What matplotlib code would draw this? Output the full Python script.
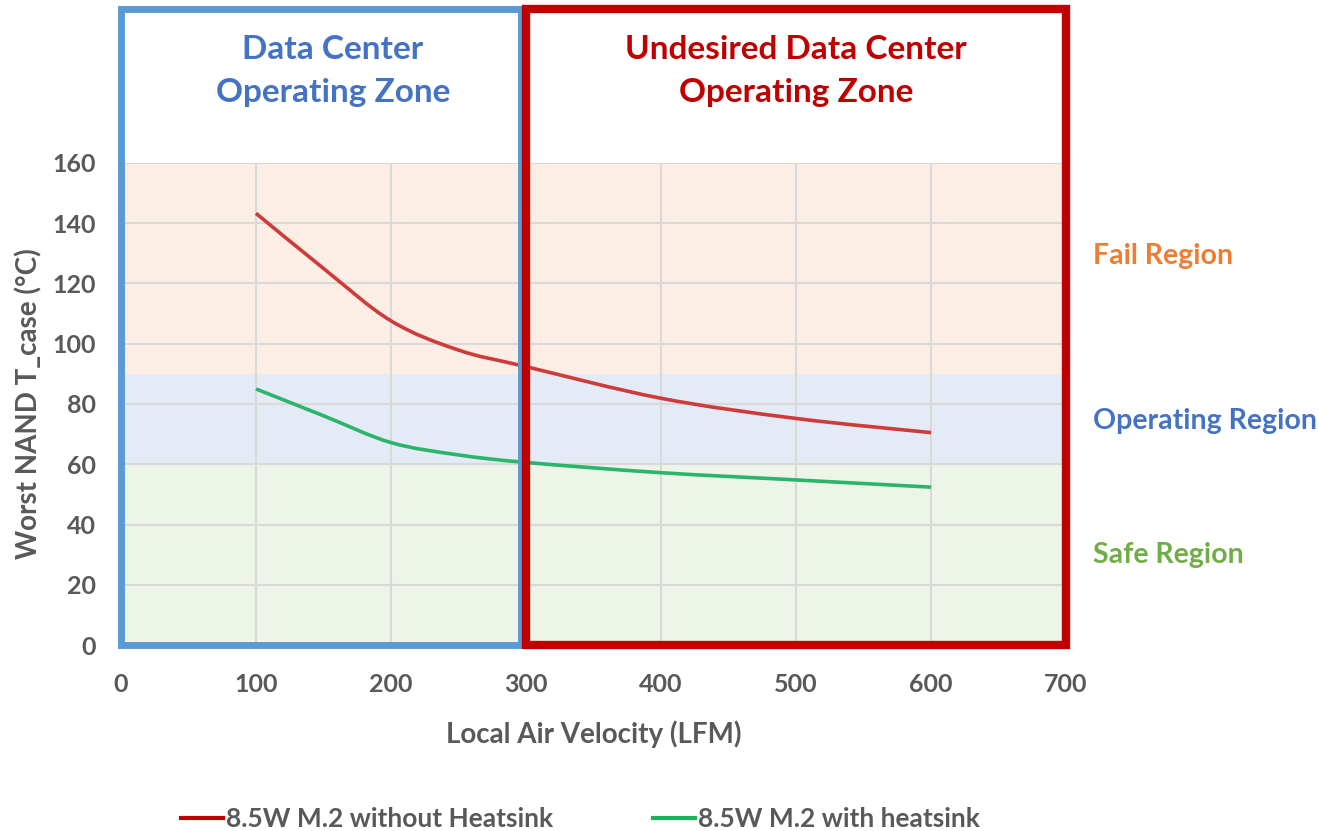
"""NAND case temperature vs local air velocity, with operating zones."""

import matplotlib

matplotlib.use("Agg")
import matplotlib.pyplot as plt
from matplotlib.patches import PathPatch, Rectangle
from matplotlib.path import Path
from matplotlib.lines import Line2D

# values
velocity = [100, 150, 200, 250, 300, 400, 500, 600]
temp_no_heatsink = [143.3, 125.0, 107.6, 97.9, 92.4, 81.9, 75.2, 70.5]
temp_heatsink = [85.0, 76.1, 67.2, 63.1, 60.6, 57.2, 54.8, 52.4]

series_labels = ["8.5W M.2 without Heatsink", "8.5W M.2 with heatsink"]
x_ticks = [0, 100, 200, 300, 400, 500, 600, 700]
y_ticks = [0, 20, 40, 60, 80, 100, 120, 140, 160]

# temperature bands (low, high) and zone spans along the velocity axis
safe_band = (0, 60)
operating_band = (60, 90)
fail_band = (90, 160)
dc_zone = (0, 296)
undesired_zone = (300, 700)
zone_top = 211

FONT = ["Lato", "DejaVu Sans"]
GRAY = "#595959"


def smooth_path(xs, ys):
    """Excel-style smoothed line through the points as a cubic Bezier path."""
    pts = list(zip(xs, ys))
    verts = [pts[0]]
    codes = [Path.MOVETO]
    n = len(pts)
    for i in range(n - 1):
        p0 = pts[i - 1] if i > 0 else pts[i]
        p1 = pts[i]
        p2 = pts[i + 1]
        p3 = pts[i + 2] if i + 2 < n else pts[i + 1]
        c1 = (p1[0] + (p2[0] - p0[0]) / 6, p1[1] + (p2[1] - p0[1]) / 6)
        c2 = (p2[0] - (p3[0] - p1[0]) / 6, p2[1] - (p3[1] - p1[1]) / 6)
        verts += [c1, c2, p2]
        codes += [Path.CURVE4] * 3
    return Path(verts, codes)


fig = plt.figure(figsize=(13.19, 8.31), dpi=100)
ax = fig.add_axes([0.0917, 0.2238, 0.7165, 0.5801])
ax.set_xlim(0, 700)
ax.set_ylim(0, 160)

ax.axhspan(*fail_band, color="#FDEEE5", zorder=0, lw=0)
ax.axhspan(*operating_band, color="#E5EBF6", zorder=0, lw=0)
ax.axhspan(*safe_band, color="#EDF4E8", zorder=0, lw=0)

ax.set_xticks(x_ticks)
ax.set_yticks(y_ticks)
ax.grid(True, color="#D9D9D9", lw=1.5, zorder=0.5)
ax.set_axisbelow(True)
for spine in ax.spines.values():
    spine.set_visible(False)
ax.tick_params(length=0, labelsize=18, labelcolor=GRAY)
ax.tick_params(axis="y", pad=18)
ax.tick_params(axis="x", pad=20)
for lab in ax.get_xticklabels() + ax.get_yticklabels():
    lab.set_fontfamily(FONT)
    lab.set_fontweight("bold")

line_colors = ["#CD3B3B", "#2AB56B"]
for ys, col in zip([temp_no_heatsink, temp_heatsink], line_colors):
    ax.add_patch(PathPatch(smooth_path(velocity, ys), fill=False,
                           edgecolor=col, lw=2.6, zorder=3, capstyle="butt"))

ax.add_patch(Rectangle((dc_zone[0], 0), dc_zone[1] - dc_zone[0], zone_top,
                       fill=False, edgecolor="#5B9BD5", lw=5, zorder=4, clip_on=False))
ax.add_patch(Rectangle((undesired_zone[0], 0), undesired_zone[1] - undesired_zone[0], zone_top,
                       fill=False, edgecolor="#C00000", lw=6, zorder=5, clip_on=False))

ax.text(157, 190.5, "Data Center\nOperating Zone", ha="center", va="center",
        fontsize=24, fontweight="bold", color="#4472C4", family=FONT,
        linespacing=1.55, clip_on=False)
ax.text(sum(undesired_zone) / 2, 190.5, "Undesired Data Center\nOperating Zone", ha="center",
        va="center", fontsize=24, fontweight="bold", color="#C00000", family=FONT,
        linespacing=1.55, clip_on=False)

region_labels = [("Fail Region", 129, "#ED7D31"),
                 ("Operating Region", 74.5, "#4472C4"),
                 ("Safe Region", 30, "#70AD47")]
for text, yv, col in region_labels:
    ax.text(720, yv, text, ha="left", va="center", fontsize=20.5, fontweight="bold",
            color=col, family=FONT, clip_on=False)

ax.set_xlabel("Local Air Velocity (LFM)", fontsize=20, fontweight="bold", color=GRAY,
              family=FONT, labelpad=18)
ax.set_ylabel("Worst NAND T_case (°C)", fontsize=20, fontweight="bold", color=GRAY,
              family=FONT, labelpad=7)

handles = [Line2D([], [], color=c, lw=3) for c in ["#C00000", "#1FB05A"]]
leg = fig.legend(handles, series_labels, loc="center", bbox_to_anchor=(0.44, 0.014),
                 ncol=2, frameon=False, handlelength=1.6, handletextpad=0.1,
                 columnspacing=3.8, prop={"family": FONT, "weight": "bold", "size": 19})
for t in leg.get_texts():
    t.set_color(GRAY)

fig.savefig("out.png", dpi=100)
